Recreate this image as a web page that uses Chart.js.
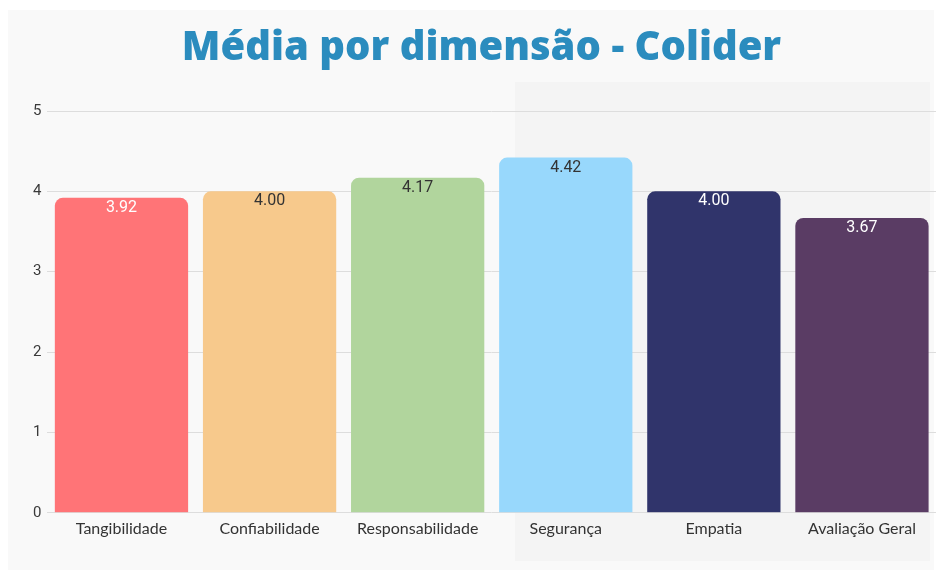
<!DOCTYPE html>
<html>
<head>
<meta charset="utf-8">
<script src="https://cdn.jsdelivr.net/npm/chart.js@4"></script>
<style>
  html, body { margin: 0; padding: 0; background: #ffffff; }
  #wrap { position: relative; width: 944px; height: 576px; }
  #panel { position: absolute; left: 8px; top: 10px; width: 926px; height: 560px; background: #f9f9f9; }
  #shade { position: absolute; left: 515px; top: 82px; width: 415px; height: 479px; background: #f4f4f4; }
  canvas { position: absolute; left: 0; top: 0; }
</style>
</head>
<body>
<div id="wrap">
  <div id="panel"></div>
  <div id="shade"></div>
  <canvas id="chart" width="944" height="576"></canvas>
</div>
<script>
// Dimensions and their average scores
const categories = ['Tangibilidade', 'Confiabilidade', 'Responsabilidade', 'Segurança', 'Empatia', 'Avaliação Geral'];
const medias = [3.92, 4.00, 4.17, 4.42, 4.00, 3.67];
const yTicks = [0, 1, 2, 3, 4, 5];

const barColors = ['#ff7477', '#f7c98c', '#b1d59d', '#98d8fc', '#30346b', '#5a3c64'];
const labelColors = ['#ffffff', '#333333', '#333333', '#333333', '#ffffff', '#ffffff'];

// Value label drawn just inside the top of each bar
const valueLabels = {
  id: 'valueLabels',
  afterDatasetsDraw(chart) {
    const ctx = chart.ctx;
    const meta = chart.getDatasetMeta(0);
    ctx.save();
    ctx.font = '16px Roboto';
    ctx.textAlign = 'center';
    ctx.textBaseline = 'middle';
    meta.data.forEach((bar, i) => {
      ctx.fillStyle = labelColors[i];
      ctx.fillText(medias[i].toFixed(2), bar.x, bar.y + 10);
    });
    ctx.restore();
  }
};

new Chart(document.getElementById('chart'), {
  type: 'bar',
  data: {
    labels: categories,
    datasets: [{
      data: medias,
      backgroundColor: barColors,
      borderRadius: 8,
      borderSkipped: 'start',
      categoryPercentage: 1.0,
      barPercentage: 0.9
    }]
  },
  options: {
    responsive: false,
    animation: false,
    layout: { padding: { left: 27, right: 8, top: 25, bottom: 32 } },
    plugins: {
      legend: { display: false },
      tooltip: { enabled: false },
      title: {
        display: true,
        text: 'Média por dimensão - Colider',
        color: '#2b8cbe',
        font: { family: 'Open Sans', size: 40, weight: '800' },
        padding: { top: 0, bottom: 38 }
      }
    },
    scales: {
      x: {
        grid: { display: false, drawTicks: false },
        border: { display: false },
        ticks: {
          color: '#333333',
          font: { family: 'Lato', size: 16 },
          padding: 6,
          maxRotation: 0
        }
      },
      y: {
        min: 0,
        max: 5,
        afterBuildTicks(scale) { scale.ticks = yTicks.map(v => ({ value: v })); },
        grid: { color: '#dddddd', drawTicks: false },
        border: { display: false },
        ticks: {
          color: '#3a3a3a',
          font: { family: 'Roboto', size: 15 },
          padding: 6
        }
      }
    }
  },
  plugins: [valueLabels]
});
</script>
</body>
</html>
